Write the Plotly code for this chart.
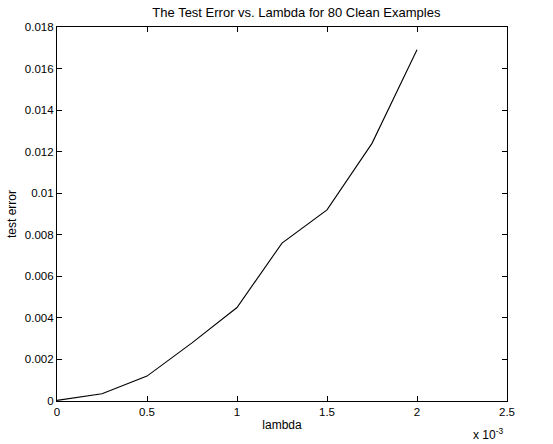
import plotly.graph_objects as go

lambda_vals = [0, 0.00025, 0.0005, 0.00075, 0.001, 0.00125, 0.0015, 0.00175, 0.002]
test_error = [0.00003, 0.00035, 0.0012, 0.0028, 0.0045, 0.0076, 0.0092, 0.0124, 0.0169]

x_tick_vals = [0, 0.0005, 0.001, 0.0015, 0.002, 0.0025]
x_tick_text = ["0", "0.5", "1", "1.5", "2", "2.5"]
y_tick_vals = [0, 0.002, 0.004, 0.006, 0.008, 0.01, 0.012, 0.014, 0.016, 0.018]
y_tick_text = ["0", "0.002", "0.004", "0.006", "0.008", "0.01", "0.012", "0.014", "0.016", "0.018"]

fam = "Liberation Sans, Arial, sans-serif"
font = dict(family=fam, size=11.5, color="black")
label_font = dict(family=fam, size=12, color="black")

fig = go.Figure()
fig.add_trace(go.Scatter(x=lambda_vals, y=test_error, mode="lines",
                         line=dict(color="black", width=1.1), showlegend=False))

axis_common = dict(showgrid=False, zeroline=False, showline=True, linecolor="black",
                   linewidth=1.2, mirror="ticks", ticks="inside", ticklen=5,
                   tickcolor="black", tickfont=font)

fig.update_layout(
    width=553, height=444,
    margin=dict(l=57, r=46, t=27, b=43),
    paper_bgcolor="white", plot_bgcolor="white",
    font=font,
    title=dict(text="The Test Error vs. Lambda for 80 Clean Examples",
               x=0.532, xanchor="center", y=0.972, yanchor="middle",
               xref="paper", font=dict(family=fam, size=13, color="black")),
    xaxis=dict(range=[0, 0.0025], tickvals=x_tick_vals, ticktext=x_tick_text,
               title=dict(text="lambda", standoff=3, font=label_font), **axis_common),
    yaxis=dict(range=[0, 0.018], tickvals=y_tick_vals, ticktext=y_tick_text,
               title=dict(text="test error", standoff=5, font=label_font), **axis_common),
    annotations=[dict(text="x 10<sup>-3</sup>", xref="paper", yref="paper",
                      x=0.995, y=-0.062, xanchor="right", yanchor="top",
                      showarrow=False, font=label_font)],
)

fig.write_html("out.html")
